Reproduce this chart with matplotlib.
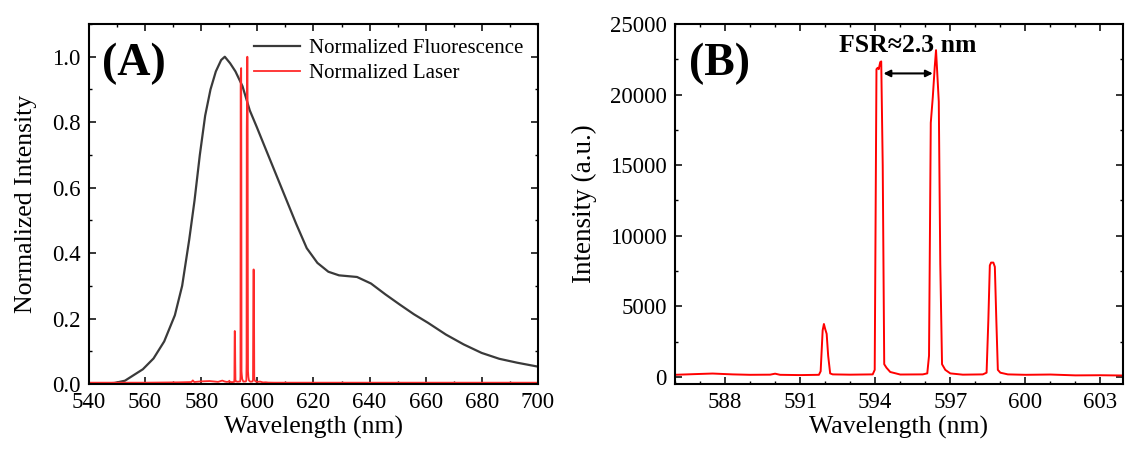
import matplotlib
matplotlib.use("Agg")
import matplotlib.pyplot as plt
from matplotlib.ticker import MultipleLocator, FormatStrFormatter
import numpy as np

plt.rcParams['font.family'] = ['Liberation Serif', 'DejaVu Serif']

# ---- Panel A: normalized fluorescence spectrum ----
fluo_wl = [540, 549, 552.8, 559.2, 563, 566.8, 570.6, 573.2, 575.7, 577.6, 579.5,
           581.4, 583.3, 585.2, 587.1, 588.4, 590.3, 592.2, 594.7, 597.3, 599.8,
           602.4, 606.2, 610, 613.8, 617.6, 621.4, 625.3, 629.1, 635.5, 640.5,
           645.6, 650.7, 655.8, 660.8, 667.2, 673.5, 679.9, 686.2, 692.6, 700]
fluo_val = [0.0, 0.003, 0.01, 0.045, 0.078, 0.13, 0.21, 0.30, 0.44, 0.56, 0.70,
            0.82, 0.90, 0.955, 0.99, 1.0, 0.98, 0.955, 0.91, 0.836, 0.785,
            0.73, 0.65, 0.57, 0.49, 0.415, 0.37, 0.343, 0.332, 0.327, 0.307,
            0.274, 0.243, 0.213, 0.187, 0.151, 0.121, 0.095, 0.077, 0.065, 0.053]

# ---- Panel B: laser emission spectrum (a.u.) ----
laser_wl = [586.0, 586.8, 587.5, 588.3, 589.0, 589.8, 590.0, 590.2, 591.0, 591.75,
            591.82, 591.90, 591.95, 592.00, 592.06, 592.12, 592.20, 592.30, 593.0,
            593.90, 593.98, 594.05, 594.10, 594.14, 594.20, 594.24, 594.30, 594.36,
            594.45, 594.6, 595.0, 595.9, 596.08, 596.15, 596.22, 596.30, 596.38,
            596.43, 596.48, 596.54, 596.60, 596.67, 596.8, 597.0, 597.5, 598.3,
            598.45, 598.52, 598.58, 598.63, 598.72, 598.78, 598.84, 598.90, 599.0,
            599.3, 600.0, 601.0, 602.0, 603.0, 603.9]
laser_val = [150, 200, 240, 180, 150, 160, 230, 150, 130, 150,
             400, 3300, 3750, 3400, 3050, 1500, 250, 180, 160,
             180, 500, 21800, 21900, 21800, 22300, 22350, 15000, 900,
             650, 350, 170, 180, 250, 1500, 18000, 19800, 22000,
             23150, 21500, 19500, 8000, 900, 500, 250, 160, 180,
             300, 4000, 7900, 8100, 8100, 7800, 4000, 500, 300,
             180, 150, 170, 110, 120, 100]

# laser baseline outside the zoomed window, normalized units
laser_edge_wl_lo = [540, 560, 572, 576.5, 577, 577.5, 580, 583]
laser_edge_val_lo = [0.004, 0.004, 0.005, 0.006, 0.011, 0.006, 0.008, 0.009]
laser_edge_wl_hi = [606, 640, 700]
laser_edge_val_hi = [0.004, 0.004, 0.004]

legend_labels = ["Normalized Fluorescence", "Normalized Laser"]
fsr_text = "FSR≈2.3 nm"
fsr_left, fsr_right, fsr_y = 594.33, 596.30, 21500

fig = plt.figure(figsize=(11.25, 4.49), dpi=100)
axA = fig.add_axes([0.0791, 0.1448, 0.3991, 0.8017])
axB = fig.add_axes([0.6000, 0.1448, 0.3982, 0.8017])

tick_fs = 16.5
label_fs = 18.5

# Panel A
laser_norm = np.array(laser_val) / max(laser_val)
wl_a = laser_edge_wl_lo + laser_wl + laser_edge_wl_hi
val_a = laser_edge_val_lo + list(laser_norm) + laser_edge_val_hi
axA.plot(fluo_wl, fluo_val, color='#3a3a3a', lw=1.6, label=legend_labels[0])
axA.plot(wl_a, val_a, color='#ff2a2a', lw=1.3, label=legend_labels[1])
axA.set_xlim(540, 700)
axA.set_ylim(0, 1.1)
axA.xaxis.set_major_locator(MultipleLocator(20))
axA.xaxis.set_minor_locator(MultipleLocator(10))
axA.yaxis.set_major_locator(MultipleLocator(0.2))
axA.yaxis.set_minor_locator(MultipleLocator(0.1))
axA.yaxis.set_major_formatter(FormatStrFormatter('%.1f'))
axA.set_xlabel("Wavelength (nm)", fontsize=label_fs, labelpad=2)
axA.set_ylabel("Normalized Intensity", fontsize=label_fs, labelpad=11)
axA.text(0.1, 0.89, "(A)", transform=axA.transAxes, fontsize=33,
         fontweight='bold', ha='center', va='center')
axA.legend(loc='upper right', bbox_to_anchor=(1.0, 1.0), frameon=False,
           fontsize=15, handlelength=2.2, handletextpad=0.45,
           labelspacing=0.25, borderaxespad=0.3)

# Panel B
axB.plot(laser_wl, laser_val, color='#ff0000', lw=1.4)
axB.set_xlim(586, 603.9)
axB.set_ylim(-500, 25000)
axB.xaxis.set_major_locator(MultipleLocator(3))
axB.xaxis.set_minor_locator(MultipleLocator(1))
axB.yaxis.set_major_locator(MultipleLocator(5000))
axB.yaxis.set_minor_locator(MultipleLocator(2500))
axB.set_xlabel("Wavelength (nm)", fontsize=label_fs, labelpad=2)
axB.set_ylabel("Intensity (a.u.)", fontsize=19.5, labelpad=9)
axB.text(0.10, 0.89, "(B)", transform=axB.transAxes, fontsize=33,
         fontweight='bold', ha='center', va='center')
axB.text(595.3, 23500, fsr_text, fontsize=18.5, fontweight='bold',
         ha='center', va='center')
axB.annotate("", xy=(fsr_left, fsr_y), xytext=(fsr_right, fsr_y),
             arrowprops=dict(arrowstyle='<|-|>', color='black', lw=1.5,
                             mutation_scale=10, shrinkA=0, shrinkB=0))

for ax in (axA, axB):
    ax.tick_params(which='both', direction='in', top=True, right=True,
                   labelsize=tick_fs)
    ax.tick_params(which='major', length=5, width=1.1, pad=6)
    ax.tick_params(which='minor', length=2.5, width=1.0)
    for sp in ax.spines.values():
        sp.set_linewidth(1.5)

fig.savefig("out.png", dpi=100)
